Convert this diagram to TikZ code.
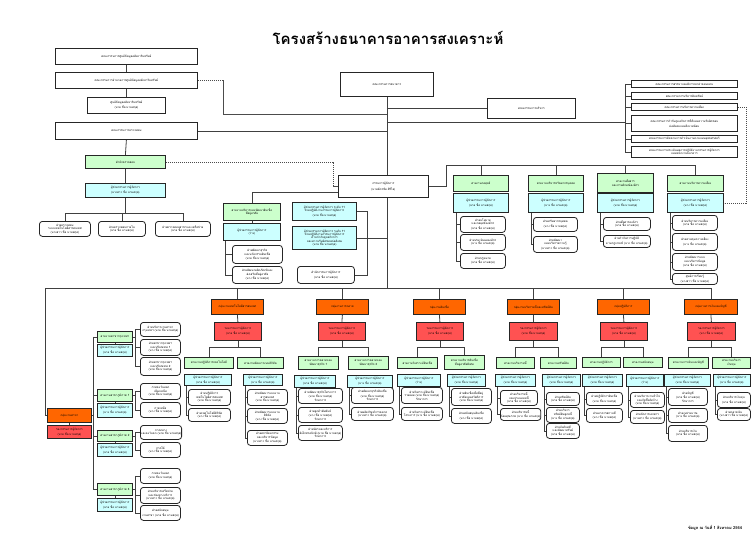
\documentclass[tikz,border=0pt]{standalone}
\usepackage{fontspec}
\newfontfamily\thai[Script=Thai]{Loma}
\usetikzlibrary{calc}
\definecolor{gfill}{RGB}{204,255,204}
\definecolor{cfill}{RGB}{204,255,255}
\definecolor{ofill}{RGB}{255,102,0}
\definecolor{rfill}{RGB}{255,82,82}
\newcommand\bx[6]{\node[#1,anchor=north west,minimum width=#4pt,minimum height=#5pt] (#2) at (#3) {#6};}
\newcommand\nmA{(นาย ชื่อ นามสกุล)}
\newcommand\nmB{(นาง ชื่อ นามสกุล)}
\newcommand\nmC{(นางสาว ชื่อ นามสกุล)}
\newcommand\acm{ผู้ช่วยกรรมการผู้จัดการ}
\newcommand\dcm{รองกรรมการผู้จัดการ}
\pgfdeclarelayer{bg}\pgfsetlayers{bg,main}
\tikzset{
 bxbase/.style={inner sep=0.3pt, align=center, font=\thai\fontsize{2.9}{3.4}\selectfont, line width=0.8pt, draw=black!85},
 wbox/.style={bxbase, fill=white},
 gbox/.style={bxbase, fill=gfill},
 cbox/.style={bxbase, fill=cfill},
 obox/.style={bxbase, fill=ofill},
 rbox/.style={bxbase, fill=rfill},
 rnd/.style={bxbase, fill=white, rounded corners=3pt},
 ln/.style={line width=0.8pt, draw=black!75},
 dsh/.style={line width=0.6pt, draw=black!70, dash pattern=on 1.2pt off 0.8pt},
}
\begin{document}
\begin{tikzpicture}[x=1pt,y=-1pt]
\begin{pgfonlayer}{bg}
\fill[white] (0,0) rectangle (752,544);
\end{pgfonlayer}
\useasboundingbox (0,0) rectangle (752,544);

\node[font=\thai\fontsize{15}{18}\selectfont\bfseries] (title) at (388,38) {โครงสร้างธนาคารอาคารสงเคราะห์};
\node[font=\thai\fontsize{4}{5}\selectfont\bfseries] (foot) at (715,528) {ข้อมูล ณ วันที่ 1 สิงหาคม 2564};

% ---------- top ----------
\bx{wbox}{tl1}{55,48}{142}{16}{คณะกรรมการศูนย์ข้อมูลอสังหาริมทรัพย์}
\bx{wbox}{tl2}{55,72}{142}{16}{คณะกรรมการอำนวยการศูนย์ข้อมูลอสังหาริมทรัพย์}
\bx{wbox}{tl3}{87,97}{78}{16}{ศูนย์ข้อมูลอสังหาริมทรัพย์\\\nmA}
\bx{wbox}{tl4}{55,122}{142}{17}{คณะกรรมการตรวจสอบ}
\bx{wbox}{board}{340,72}{93}{24}{คณะกรรมการธนาคาร}
\bx{wbox}{exec}{487,98}{88}{20}{คณะกรรมการบริหาร}
\bx{wbox}{rc1}{631,80}{106}{7}{คณะกรรมการสรรหาและพิจารณาค่าตอบแทน}
\bx{wbox}{rc2}{631,92}{106}{7}{คณะกรรมการบริหารสินทรัพย์}
\bx{wbox}{rc3}{631,103}{106}{7}{คณะกรรมการบริหารความเสี่ยง}
\bx{wbox}{rc4}{631,115}{106}{16}{คณะกรรมการกำกับดูแลกิจการที่ดีและความรับผิดชอบ\\ต่อสังคมและสิ่งแวดล้อม}
\bx{wbox}{rc5}{631,135}{106}{7}{คณะกรรมการติดตามการดำเนินงานตามแผนยุทธศาสตร์}
\bx{wbox}{rc6}{631,146}{106}{11}{คณะกรรมการประเมินผลการปฏิบัติงานกรรมการผู้จัดการ\\และพนักงานธนาคาร}
\bx{wbox}{md}{338,175}{90}{22}{กรรมการผู้จัดการ\\[2pt](นายฉัตรชัย ศิริไล)}

% audit
\bx{gbox}{audG}{85,155}{80}{13}{สำนักตรวจสอบ}
\bx{cbox}{audC}{85,183}{80}{14}{\acm\\\nmC}
\bx{rnd}{aud1}{39,221}{51}{15}{ฝ่ายตรวจสอบ\\ระบบเทคโนโลยีสารสนเทศ\\\nmC}
\bx{rnd}{aud2}{98,221}{47}{15}{ฝ่ายตรวจสอบภายใน\\\nmA}
\bx{rnd}{aud3}{155,221}{55}{15}{ฝ่ายตรวจสอบสาขาและเครือข่าย\\\nmA}

% middle left
\bx{gbox}{mlG}{223,203}{57}{17}{สายงานบริหารและพัฒนาสินเชื่อ\\ที่อยู่อาศัย}
\bx{cbox}{mlC}{223,223}{57}{17}{\acm\\(ว่าง)}
\bx{rnd}{ml1}{232,245}{50}{18}{ฝ่ายพัฒนาธุรกิจ\\และนวัตกรรมสินเชื่อ\\\nmA}
\bx{rnd}{ml2}{232,266}{50}{17}{ฝ่ายพัฒนาผลิตภัณฑ์และ\\ส่งเสริมที่อยู่อาศัย\\\nmB}
\bx{cbox}{mc1}{292,202}{64}{18}{\acm{} ระดับ 11\\ช่วยปฏิบัติงานกรรมการผู้จัดการ\\\nmA}
\node[cbox,line width=1.2pt,anchor=north west,minimum width=64pt,minimum height=23pt] (mc2) at (292,226) {\acm{} ระดับ 11\\ช่วยปฏิบัติงานกรรมการผู้จัดการ\\ด้านกำกับดูแลกิจการ\\และความรับผิดชอบต่อสังคม\\\nmA};
\bx{rnd}{mc3}{297,266}{57}{17}{สำนักกรรมการผู้จัดการ\\\nmA}

% right groups
\bx{gbox}{g1G}{453,175}{55}{16}{สายงานกลยุทธ์}
\bx{cbox}{g1C}{453,193}{55}{19}{\acm\\\nmA}
\bx{gbox}{g2G}{528,175}{55}{16}{สายงานบริหารทรัพยากรบุคคล}
\bx{cbox}{g2C}{528,193}{55}{19}{\acm\\\nmB}
\bx{gbox}{g3G}{597,173}{56}{19}{สายงานสื่อสาร\\และภาพลักษณ์องค์กร}
\bx{cbox}{g3C}{597,193}{56}{19}{\acm\\\nmA}
\bx{gbox}{g4G}{667,175}{56}{16}{สายงานบริหารความเสี่ยง}
\bx{cbox}{g4C}{667,193}{56}{19}{\acm\\\nmB}
\bx{rnd}{g1a}{460,216}{45}{16}{ฝ่ายนโยบาย\\และกลยุทธ์องค์กร\\\nmA}
\bx{rnd}{g1b}{460,234}{45}{16}{ฝ่ายประเมินผลองค์กร\\\nmB}
\bx{rnd}{g1c}{460,253}{45}{15}{ฝ่ายกฎหมาย\\\nmA}
\bx{rnd}{g2a}{533,217}{44}{14}{ฝ่ายทรัพยากรบุคคล\\\nmB}
\bx{rnd}{g2b}{533,236}{44}{16}{ฝ่ายพัฒนา\\และบริหารความรู้\\\nmC}
\bx{rnd}{g3a}{603,217}{47}{13}{ฝ่ายสื่อสารองค์กร\\\nmA}
\bx{rnd}{g3b}{603,235}{47}{12}{ฝ่ายกำกับการปฏิบัติ\\ตามกฎเกณฑ์ \nmB}
\bx{rnd}{g4a}{672,215}{45}{15}{ฝ่ายบริหารความเสี่ยง\\\nmA}
\bx{rnd}{g4b}{672,233}{45}{17}{ฝ่ายควบคุมความเสี่ยง\\\nmB}
\bx{rnd}{g4c}{672,253}{45}{17}{ฝ่ายพัฒนาระบบ\\และบริหารข้อมูล\\\nmA}
\bx{rnd}{g4d}{672,273}{45}{11}{ศูนย์การเรียนรู้\\\nmC}

% ---------- bottom ----------
\bx{obox}{oA}{211,299}{52}{15}{กลุ่มงานเทคโนโลยีสารสนเทศ}
\bx{rbox}{rA}{214,322}{47}{18}{\dcm\\\nmA}
\bx{obox}{oB}{316,299}{52}{15}{กลุ่มงานการตลาด}
\bx{rbox}{rB}{318,322}{47}{18}{\dcm\\\nmA}
\bx{obox}{oC}{413,299}{52}{15}{กลุ่มงานสินเชื่อ}
\bx{rbox}{rC}{416,322}{47}{18}{\dcm\\\nmA}
\bx{obox}{oD}{507,299}{52}{15}{กลุ่มงานบริหารหนี้และทรัพย์สิน}
\bx{rbox}{rD}{509,322}{48}{18}{\dcm\\\nmA}
\bx{obox}{oE}{597,299}{52}{15}{กลุ่มปฏิบัติการ}
\bx{rbox}{rE}{600,322}{47}{18}{\dcm\\\nmA}
\bx{obox}{oF}{684,299}{53}{15}{กลุ่มงานการเงินและบัญชี}
\bx{rbox}{rF}{687,322}{48}{18}{\dcm\\\nmB}
\bx{obox}{oL}{47,408}{44}{14}{กลุ่มงานสาขา}
\bx{rbox}{rL}{47,425}{44}{13}{\dcm\\\nmA}

% A
\bx{gbox}{A1G}{184,357}{49}{11}{สายงานปฏิบัติการเทคโนโลยี}
\bx{cbox}{A1C}{184,374}{47}{11}{\acm\\\nmA}
\bx{gbox}{A2G}{237,357}{46}{11}{สายงานพัฒนาระบบดิจิทัล}
\bx{cbox}{A2C}{243,374}{39}{11}{\acm\\\nmB}
\bx{rnd}{A1a}{188,389}{42}{16}{ฝ่ายปฏิบัติการ\\เทคโนโลยีสารสนเทศ\\\nmA}
\bx{rnd}{A1b}{188,408}{42}{13}{ฝ่ายเทคโนโลยีดิจิทัล\\\nmB}
\bx{rnd}{A2a}{247,389}{40}{16}{ฝ่ายพัฒนาระบบงาน\\สารสนเทศ\\\nmA}
\bx{rnd}{A2b}{247,408}{40}{15}{ฝ่ายพัฒนาระบบงาน\\ดิจิทัล\\\nmB}
\bx{rnd}{A2c}{247,430}{40}{15}{ฝ่ายสถาปัตยกรรม\\และบริหารข้อมูล\\\nmC}
% B
\bx{gbox}{B1G}{298,356}{40}{13}{สายงานการตลาดและ\\พัฒนาธุรกิจ 1}
\bx{cbox}{B1C}{294,375}{41}{12}{\acm\\\nmA}
\bx{gbox}{B2G}{348,356}{40}{13}{สายงานการตลาดและ\\พัฒนาธุรกิจ 2}
\bx{cbox}{B2C}{347,375}{45}{12}{\acm\\\nmB}
\bx{rnd}{B1a}{298,388}{44}{15}{ฝ่ายพัฒนาธุรกิจโครงการ\\\nmA\\รักษาการ}
\bx{rnd}{B1b}{298,407}{44}{15}{ฝ่ายลูกค้าสัมพันธ์\\\nmB\\รักษาการ}
\bx{rnd}{B1c}{298,425}{44}{15}{ฝ่ายบัตรและบริการ\\อิเล็กทรอนิกส์ \nmA\\รักษาการ}
\bx{rnd}{B2a}{351,387}{42}{16}{ฝ่ายพัฒนาธุรกิจสินเชื่อ\\\nmA\\รักษาการ}
\bx{rnd}{B2b}{351,407}{42}{13}{ฝ่ายผลิตภัณฑ์การตลาด\\\nmC}
% C
\bx{gbox}{C1G}{397,357}{40}{11}{สายงานวิเคราะห์สินเชื่อ}
\bx{cbox}{C1C}{397,374}{43}{12}{\acm\\(ว่าง)}
\bx{gbox}{C2G}{444,355}{40}{14}{สายงานบริหารสินเชื่อ\\ที่อยู่อาศัยพิเศษ}
\bx{cbox}{C2C}{447,374}{38}{12}{\acm\\\nmA}
\bx{rnd}{C1a}{401,387}{41}{16}{ฝ่ายวิเคราะห์สินเชื่อ\\รายย่อย \nmA\\รักษาการ}
\bx{rnd}{C1b}{401,407}{41}{13}{ฝ่ายวิเคราะห์สินเชื่อ\\โครงการ \nmB}
\bx{rnd}{C2a}{451,388}{40}{17}{ฝ่ายสินเชื่อเพื่อที่อยู่\\อาศัยและสวัสดิการ\\\nmA}
\bx{rnd}{C2b}{451,408}{40}{15}{ฝ่ายสนับสนุนสินเชื่อ\\\nmB}
% D
\bx{gbox}{D1G}{496,357}{38}{11}{สายงานบริหารหนี้}
\bx{cbox}{D1C}{495,374}{40}{12}{\acm\\\nmA}
\bx{gbox}{D2G}{540,357}{36}{11}{สายงานทรัพย์สิน}
\bx{cbox}{D2C}{542,374}{38}{12}{\acm\\\nmA}
\bx{rnd}{D1a}{500,390}{37}{15}{ฝ่ายบริหารหนี้\\และประนอมหนี้\\\nmA}
\bx{rnd}{D1b}{500,408}{37}{12}{ฝ่ายบริหารหนี้\\ด้อยคุณภาพ \nmB}
\bx{rnd}{D2a}{546,392}{33}{13}{ฝ่ายทรัพย์สิน\\\nmA}
\bx{rnd}{D2b}{546,407}{33}{15}{ฝ่ายบริหาร\\ทรัพย์สินลูกหนี้\\\nmB}
\bx{rnd}{D2c}{546,423}{33}{15}{ฝ่ายบังคับคดี\\และพัฒนาทรัพย์\\\nmA}
% E
\bx{gbox}{E1G}{582,357}{38}{10}{สายงานปฏิบัติการ}
\bx{cbox}{E1C}{582,374}{40}{12}{\acm\\\nmA}
\bx{gbox}{E2G}{623,357}{39}{10}{สายงานสนับสนุน}
\bx{cbox}{E2C}{626,374}{37}{12}{\acm\\(ว่าง)}
\bx{rnd}{E1a}{586,392}{36}{13}{ฝ่ายปฏิบัติการสินเชื่อ\\\nmA}
\bx{rnd}{E1b}{586,408}{36}{14}{ฝ่ายอาคารสถานที่\\\nmB}
\bx{rnd}{E2a}{630,392}{34}{15}{ฝ่ายบริหารงานทั่วไป\\และจัดซื้อจัดจ้าง\\\nmA}
\bx{rnd}{E2b}{630,410}{34}{13}{ฝ่ายจัดการเอกสาร\\\nmC}
% F
\bx{gbox}{F1G}{668,357}{40}{11}{สายงานการเงินและบัญชี}
\bx{cbox}{F1C}{664,374}{46}{12}{\acm\\\nmA}
\bx{gbox}{F2G}{712,357}{38}{11}{สายงานบริหาร\\เงินทุน}
\bx{cbox}{F2C}{713,374}{37}{12}{\acm\\\nmB}
\bx{rnd}{F1a}{668,388}{39}{17}{ฝ่ายบัญชี\\\nmA\\รักษาการ}
\bx{rnd}{F1b}{668,408}{39}{14}{ฝ่ายงบประมาณ\\\nmB}
\bx{rnd}{F1c}{668,425}{39}{16}{ฝ่ายบริหารเงิน\\\nmA}
\bx{rnd}{F2a}{717,392}{33}{15}{ฝ่ายบริหารเงินทุน\\\nmA}
\bx{rnd}{F2b}{717,408}{33}{12}{ฝ่ายตลาดเงิน\\\nmC}
% L
\bx{gbox}{lG1}{97,331}{35}{11}{สายงานสาขากรุงเทพฯ}
\bx{cbox}{lC1}{97,344}{35}{12}{\acm\\\nmA}
\bx{gbox}{lG2}{97,389}{35}{12}{สายงานสาขาภูมิภาค 1}
\bx{cbox}{lC2}{97,403}{35}{14}{\acm\\\nmB}
\bx{gbox}{lG3}{97,430}{35}{11}{สายงานสาขาภูมิภาค 2}
\bx{cbox}{lC3}{97,443}{35}{13}{\acm\\\nmA}
\bx{gbox}{lG4}{97,483}{35}{12}{สายงานสาขาภูมิภาค 3}
\bx{cbox}{lC4}{97,498}{35}{13}{\acm\\\nmA}
\bx{rnd}{l1a}{140,322}{40}{14}{ฝ่ายบริหารงานสาขา\\กรุงเทพฯ \nmA}
\bx{rnd}{l1b}{140,339}{40}{16}{ฝ่ายสาขากรุงเทพฯ\\และปริมณฑล 1\\\nmB}
\bx{rnd}{l1c}{140,357}{40}{18}{ฝ่ายสาขากรุงเทพฯ\\และปริมณฑล 2\\\nmA}
\bx{rnd}{l2a}{140,383}{40}{16}{ภาคตะวันออก\\เฉียงเหนือ\\\nmA}
\bx{rnd}{l2b}{140,402}{40}{15}{ภาคเหนือ\\\nmB}
\bx{rnd}{l3a}{140,425}{40}{14}{ภาคกลาง\\และตะวันตก \nmA}
\bx{rnd}{l3b}{140,442}{40}{15}{ภาคใต้\\\nmB}
\bx{rnd}{l4a}{140,468}{40}{15}{ภาคตะวันออก\\\nmA}
\bx{rnd}{l4b}{140,487}{40}{16}{ฝ่ายบริหารเครือข่าย\\และช่องทางบริการ\\\nmC}
\bx{rnd}{l4c}{140,505}{40}{15}{ฝ่ายสนับสนุน\\งานสาขา \nmA}

% ---------- connectors ----------
\begin{pgfonlayer}{bg}
\coordinate (busL) at (45,288);
\coordinate (brk) at (625,122);
\coordinate (ab) at (125,213);
\coordinate (mb) at (367,0);
\coordinate (rbj) at (446,165);
\coordinate (lb) at (93,415);
\coordinate (lk) at (135,0);
\draw[ln] (tl1.south) -- (tl2.north);
\draw[ln] (tl2.south) -- (tl3.north);
\draw[ln] (tl4.south) -- (audG.north);
\draw[dsh] (tl2.east) -- ++(25,0) |- ($(board.south)+(0,17)$);
\draw[ln] (tl4.east) -- (tl4.east -| board.south);
\draw[ln] (board.south) -- (board.south |- busL);
\draw[ln] (board.south |- exec.west) -- (exec.west);
\draw[ln] (board.south |- brk) -- (brk);
\draw[ln] (brk |- rc1.west) -- (brk |- rc6.west);
\foreach \r in {rc1,rc2,rc3,rc4,rc5,rc6} \draw[ln] (brk |- \r.west) -- (\r.west);
\draw[dsh] (rc3.east) -- ++(8,0) |- (g4C.east);
% audit
\draw[ln] (audG.south) -- (audC.north);
\draw[ln] (audC.south) -- (audC.south |- ab);
\draw[ln] (aud1.north |- ab) -- (aud3.north |- ab);
\foreach \r in {aud1,aud2,aud3} \draw[ln] (\r.north |- ab) -- (\r.north);
\draw[dsh] (audG.east) -- ++(167,0) |- (md.west);
% middle
\draw[ln] ([yshift=-6pt]md.west) -| (mlG.north);
\draw[ln] (mlG.south) -- (mlC.north);
\foreach \r in {ml1,ml2} \draw[ln] ([xshift=2pt]mlC.south west) |- (\r.west);
\draw[ln] (mc1.east) -- (mc1.east -| mb) -- (mb |- mc3.east) -- (mc3.east);
\draw[ln] (mc2.east) -- (mc2.east -| board.south);
% right
\draw[ln] (md.east) -| (rbj) -- (rbj -| g4G.north);
\foreach \g in {g1,g2,g3,g4} \draw[ln] (\g G.north |- rbj) -- (\g G.north);
\foreach \r in {g1a,g1b,g1c} \draw[ln] ([xshift=3pt]g1C.south west) |- (\r.west);
\foreach \r in {g2a,g2b} \draw[ln] ([xshift=3pt]g2C.south west) |- (\r.west);
\foreach \r in {g3a,g3b} \draw[ln] ([xshift=3pt]g3C.south west) |- (\r.west);
\foreach \r in {g4a,g4b,g4c,g4d} \draw[ln] ([xshift=3pt]g4C.south west) |- (\r.west);
% bottom bus
\draw[ln] (busL) -- (busL -| oF.north);
\draw[ln] (busL) |- (oL.west);
\foreach \x in {A,B,C,D,E,F} {
  \draw[ln] (o\x.north |- busL) -- (o\x.north);
  \draw[ln] (o\x.south) -- (r\x.north);
  \draw[ln] (r\x.south) -- ++(0,7) -| (\x1G.north);
  \draw[ln] (r\x.south) -- ++(0,7) -| (\x2G.north);
}
\foreach \r in {A1a,A1b} \draw[ln] ([xshift=2pt]A1C.south west) |- (\r.west);
\foreach \r in {A2a,A2b,A2c} \draw[ln] ([xshift=2pt]A2C.south west) |- (\r.west);
\foreach \r in {B1a,B1b,B1c} \draw[ln] ([xshift=2pt]B1C.south west) |- (\r.west);
\foreach \r in {B2a,B2b} \draw[ln] ([xshift=2pt]B2C.south west) |- (\r.west);
\foreach \r in {C1a,C1b} \draw[ln] ([xshift=2pt]C1C.south west) |- (\r.west);
\foreach \r in {C2a,C2b} \draw[ln] ([xshift=2pt]C2C.south west) |- (\r.west);
\foreach \r in {D1a,D1b} \draw[ln] ([xshift=2pt]D1C.south west) |- (\r.west);
\foreach \r in {D2a,D2b,D2c} \draw[ln] ([xshift=2pt]D2C.south west) |- (\r.west);
\foreach \r in {E1a,E1b} \draw[ln] ([xshift=2pt]E1C.south west) |- (\r.west);
\foreach \r in {E2a,E2b} \draw[ln] ([xshift=2pt]E2C.south west) |- (\r.west);
\foreach \r in {F1a,F1b,F1c} \draw[ln] ([xshift=2pt]F1C.south west) |- (\r.west);
\foreach \r in {F2a,F2b} \draw[ln] ([xshift=2pt]F2C.south west) |- (\r.west);
% branches group
\draw[ln] (oL.south) -- (rL.north);
\draw[ln] (oL.east) -- (oL.east -| lb);
\draw[ln] (lb |- lG1.west) -- (lb |- lG4.west);
\foreach \i in {1,2,3,4} {
  \draw[ln] (lb |- lG\i.west) -- (lG\i.west);
  \draw[ln] (lG\i.south) -- (lC\i.north);
  \draw[ln] (lG\i.east) -- (lG\i.east -| lk);
}
\draw[ln] (lk |- l1a.west) -- (lk |- l1c.west);
\draw[ln] (lk |- l2a.west) -- (lk |- l2b.west);
\draw[ln] (lk |- l3a.west) -- (lk |- l3b.west);
\draw[ln] (lk |- l4a.west) -- (lk |- l4c.west);
\foreach \r in {l1a,l1b,l1c,l2a,l2b,l3a,l3b,l4a,l4b,l4c} \draw[ln] (lk |- \r.west) -- (\r.west);
\end{pgfonlayer}
\end{tikzpicture}
\end{document}
